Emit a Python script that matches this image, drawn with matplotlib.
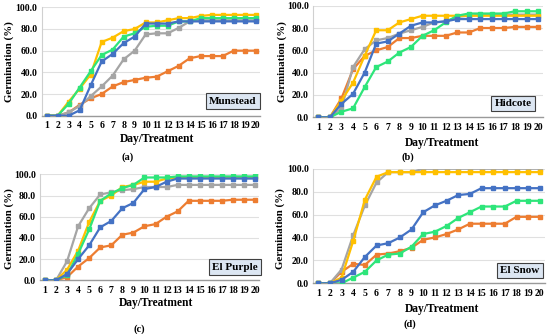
import matplotlib
matplotlib.use("Agg")
import matplotlib.pyplot as plt

days = list(range(1, 21))
series_names = ["Orange", "Gray", "Yellow", "Green", "Blue"]
colors = {"Blue": "#4472C4", "Orange": "#ED7D31", "Gray": "#A5A5A5",
          "Yellow": "#FFC000", "Green": "#2EE57A"}

munstead_blue   = [0, 0, 0, 5, 28, 50, 57, 67, 73, 85, 85, 85, 87, 87, 87, 87, 87, 87, 87, 87]
munstead_orange = [0, 0, 3, 10, 16, 20, 27, 31, 33, 35, 36, 41, 46, 53, 55, 55, 55, 60, 60, 60]
munstead_gray   = [0, 0, 3, 9, 18, 27, 37, 52, 60, 75, 76, 76, 81, 87, 88, 88, 88, 88, 88, 88]
munstead_yellow = [0, 0, 13, 25, 38, 68, 72, 78, 80, 86, 86, 88, 90, 90, 92, 93, 93, 93, 93, 93]
munstead_green  = [0, 0, 11, 26, 41, 56, 61, 73, 76, 82, 83, 83, 87, 87, 90, 90, 90, 90, 90, 90]

hidcote_blue   = [0, 0, 12, 21, 40, 66, 68, 75, 82, 85, 85, 86, 88, 88, 88, 88, 88, 88, 88, 88]
hidcote_orange = [0, 0, 17, 43, 55, 60, 63, 71, 71, 73, 73, 73, 76, 76, 80, 80, 80, 81, 81, 81]
hidcote_gray   = [0, 0, 8, 45, 61, 69, 71, 75, 78, 81, 85, 86, 90, 91, 92, 92, 92, 92, 92, 92]
hidcote_yellow = [0, 0, 15, 31, 55, 78, 78, 85, 88, 91, 91, 91, 91, 91, 91, 91, 91, 91, 91, 91]
hidcote_green  = [0, 0, 5, 8, 27, 45, 50, 58, 63, 73, 78, 85, 91, 93, 93, 93, 93, 95, 95, 95]

purple_blue   = [0, 0, 6, 20, 33, 50, 56, 68, 73, 86, 88, 93, 96, 96, 96, 96, 96, 96, 96, 96]
purple_orange = [0, 0, 3, 13, 21, 31, 33, 43, 45, 51, 53, 60, 65, 75, 75, 75, 75, 76, 76, 76]
purple_gray   = [0, 0, 18, 51, 68, 81, 83, 85, 86, 88, 88, 88, 90, 90, 90, 90, 90, 90, 90, 90]
purple_yellow = [0, 0, 10, 28, 55, 75, 80, 88, 90, 93, 93, 96, 97, 97, 97, 97, 97, 97, 97, 97]
purple_green  = [0, 0, 5, 25, 48, 75, 82, 87, 90, 97, 97, 97, 98, 98, 98, 98, 98, 98, 98, 98]

snow_blue   = [0, 0, 3, 10, 23, 33, 35, 40, 47, 62, 68, 72, 77, 78, 83, 83, 83, 83, 83, 83]
snow_orange = [0, 0, 10, 17, 16, 25, 26, 28, 31, 38, 40, 43, 47, 52, 52, 52, 52, 58, 58, 58]
snow_gray   = [0, 0, 12, 42, 68, 88, 97, 97, 97, 100, 100, 100, 100, 100, 100, 100, 100, 100, 100, 100]
snow_yellow = [0, 0, 5, 37, 73, 93, 97, 97, 97, 97, 97, 97, 97, 97, 97, 97, 97, 97, 97, 97]
snow_green  = [0, 0, 0, 5, 10, 20, 25, 26, 32, 43, 45, 50, 57, 62, 67, 67, 67, 72, 72, 72]

panels = [
    ("Munstead", "(a)", {"Blue": munstead_blue, "Orange": munstead_orange, "Gray": munstead_gray,
                         "Yellow": munstead_yellow, "Green": munstead_green}),
    ("Hidcote", "(b)", {"Blue": hidcote_blue, "Orange": hidcote_orange, "Gray": hidcote_gray,
                        "Yellow": hidcote_yellow, "Green": hidcote_green}),
    ("El Purple", "(c)", {"Blue": purple_blue, "Orange": purple_orange, "Gray": purple_gray,
                          "Yellow": purple_yellow, "Green": purple_green}),
    ("El Snow", "(d)", {"Blue": snow_blue, "Orange": snow_orange, "Gray": snow_gray,
                        "Yellow": snow_yellow, "Green": snow_green}),
]

W, H = 550, 334
fig = plt.figure(figsize=(W / 100, H / 100), dpi=100)
FONT = "Liberation Serif"

# pixel layout: (left, right, top, bottom) of axes
layouts = [(41.7, 260.1, 7.3, 115.7), (313.1, 542.9, 5.7, 117.3),
           (40.0, 259.4, 174.3, 280.3), (313.0, 544.5, 168.7, 283.3)]
ylab_pos = [(9, 62), (282, 62), (9, 229), (280, 229)]
xlab_pos = [(157, 139), (442, 143), (156, 303), (442, 309)]
plab_pos = [(128, 157), (408, 157), (139, 329), (410, 324)]
box_pos = [(233, 101), (513, 103.5), (235, 267), (520, 270.5)]

for (name, plab, data), (l, r, t, b), yl, xl, pl, bp in zip(panels, layouts, ylab_pos, xlab_pos, plab_pos, box_pos):
    ax = fig.add_axes([l / W, 1 - b / H, (r - l) / W, (b - t) / H])
    for s in series_names:
        ax.plot(days, data[s], color=colors[s], lw=1.6, marker="s", ms=2.3, zorder=3)
    ax.set_xlim(0.55, 20.4)
    ax.set_ylim(0, 100)
    ax.set_xticks(days)
    ax.set_yticks([0, 20, 40, 60, 80, 100])
    ax.set_yticklabels([f"{v:.1f}" for v in [0, 20, 40, 60, 80, 100]])
    ax.grid(axis="y", color="#E0E0E0", lw=0.8)
    ax.set_axisbelow(True)
    for sp in ["top", "right"]:
        ax.spines[sp].set_visible(False)
    ax.spines["left"].set_color("#D0D0D0")
    ax.spines["bottom"].set_color("#9A9A9A")
    ax.spines["bottom"].set_linewidth(1.0)
    ax.tick_params(axis="x", length=0, pad=4)
    ax.tick_params(axis="y", length=0, pad=3)
    for lbl in ax.get_xticklabels() + ax.get_yticklabels():
        lbl.set_fontfamily(FONT)
        lbl.set_fontweight("bold")
        lbl.set_fontsize(7)
    fig.text(yl[0] / W, 1 - yl[1] / H, "Germination (%)", rotation=90, ha="center", va="center",
             fontfamily=FONT, fontweight="bold", fontsize=7.8)
    fig.text(xl[0] / W, 1 - xl[1] / H, "Day/Treatment", ha="center", va="center",
             fontfamily=FONT, fontweight="bold", fontsize=8.3)
    fig.text(pl[0] / W, 1 - pl[1] / H, plab, ha="center", va="center",
             fontfamily=FONT, fontweight="bold", fontsize=7.5)
    fig.text(bp[0] / W, 1 - bp[1] / H, name, ha="center", va="center",
             fontfamily=FONT, fontweight="bold", fontsize=8,
             bbox=dict(boxstyle="square,pad=0.28", fc="#DCE6F2", ec="#404040", lw=0.8))

fig.savefig("out.png", dpi=100)
